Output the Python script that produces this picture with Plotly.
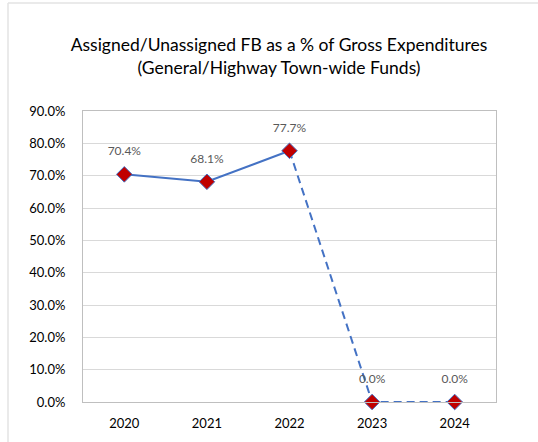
import plotly.graph_objects as go

years = ["2020", "2021", "2022", "2023", "2024"]
values = [70.4, 68.1, 77.7, 0.0, 0.0]
labels = ["70.4%", "68.1%", "77.7%", "0.0%", "0.0%"]
y_ticks = [0, 10, 20, 30, 40, 50, 60, 70, 80, 90]
y_tick_text = ["0.0%", "10.0%", "20.0%", "30.0%", "40.0%", "50.0%", "60.0%", "70.0%", "80.0%", "90.0%"]

W, H = 538, 442
L, R, T, B = 83, 42, 111, 40
FONT = "Lato, Open Sans, sans-serif"

fig = go.Figure()
blue = "#4472c4"
fig.add_trace(go.Scatter(x=years[:3], y=values[:3], mode="lines",
                         line=dict(color=blue, width=2), hoverinfo="skip"))
fig.add_trace(go.Scatter(x=years[2:], y=values[2:], mode="lines",
                         line=dict(color=blue, width=2, dash="8px,5px"), hoverinfo="skip"))
# labels: text above an invisible, larger marker to get the spacing
fig.add_trace(go.Scatter(x=years, y=values, mode="markers+text",
                         marker=dict(symbol="circle", size=24, color="rgba(0,0,0,0)",
                                     line=dict(width=0)),
                         text=labels, textposition="top center",
                         textfont=dict(family=FONT, size=12, color="#595959"),
                         cliponaxis=False, hoverinfo="skip"))
fig.add_trace(go.Scatter(x=years, y=values, mode="markers",
                         marker=dict(symbol="diamond", size=12, color="#c00000",
                                     line=dict(color=blue, width=1)),
                         cliponaxis=False))

pw = W - L - R
ph = H - T - B
def px(x):
    return (x - L) / pw
def py(y):
    return (H - B - y) / ph

fig.update_layout(
    width=W, height=H,
    margin=dict(l=L, r=R, t=T, b=B),
    paper_bgcolor="white", plot_bgcolor="white",
    showlegend=False,
    title=dict(text="Assigned/Unassigned FB as a % of Gross Expenditures<br>(General/Highway Town-wide Funds)",
               xref="container", yref="container",
               x=279 / W, xanchor="center", y=1 - 51 / H, yanchor="middle",
               font=dict(family=FONT, size=17.5, color="#000000")),
    xaxis=dict(type="category", range=[-0.5, 4.5], showgrid=False,
               showline=True, linecolor="#bfbfbf", linewidth=1, mirror=True,
               ticks="", tickfont=dict(family=FONT, size=13, color="#000000"),
               ticklabelstandoff=9, fixedrange=True),
    yaxis=dict(range=[0, 90], tickvals=y_ticks, ticktext=y_tick_text,
               showgrid=True, gridcolor="#d9d9d9", gridwidth=1,
               showline=True, linecolor="#bfbfbf", linewidth=1, mirror=True,
               zeroline=False, ticks="",
               tickfont=dict(family=FONT, size=13, color="#000000"),
               ticklabelstandoff=14, fixedrange=True),
    shapes=[
        dict(type="line", xref="paper", yref="paper", x0=px(8), x1=px(W), y0=py(3), y1=py(3),
             line=dict(color="#e3e3e3", width=1.5)),
        dict(type="line", xref="paper", yref="paper", x0=px(8), x1=px(8), y0=py(3), y1=py(H),
             line=dict(color="#e3e3e3", width=1.5)),
    ],
)

fig.write_html("out.html", config={"displayModeBar": False},
               post_script="document.body.style.margin='0';document.body.style.overflow='hidden';")
